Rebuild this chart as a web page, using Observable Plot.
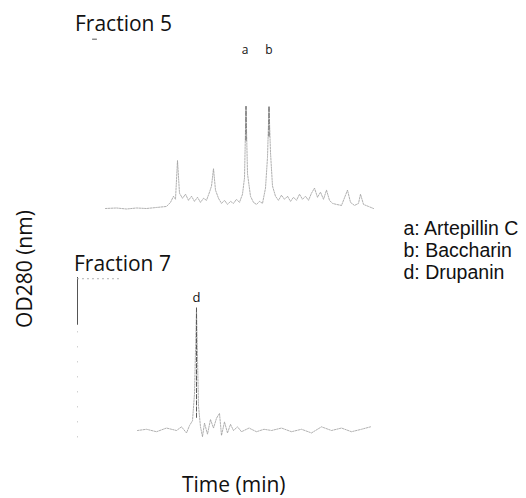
<!DOCTYPE html>
<html>
<head>
<meta charset="utf-8">
<script src="https://cdn.jsdelivr.net/npm/d3@7"></script>
<script src="https://cdn.jsdelivr.net/npm/@observablehq/plot@0.6"></script>
<style>
  body { margin: 0; background: #fff; }
  #wrap { position: relative; width: 526px; height: 498px; overflow: hidden; font-family: "Open Sans", "Noto Sans", sans-serif; color: #111; }
  .abs { position: absolute; white-space: nowrap; line-height: 1; }
  .title { font-size: 21px; }
  .chart { position: absolute; left: 0; }
  .legend { font-family: "Liberation Sans", Arial, sans-serif; font-size: 19.5px; line-height: 1; }
</style>
</head>
<body>
<div id="wrap">
  <div id="c5" class="chart" style="top:30px;"></div>
  <div id="c7" class="chart" style="top:270px;"></div>
  <div class="abs title" style="left:75px; top:13.4px;">Fraction 5</div>
  <div class="abs title" style="left:74px; top:253.4px;">Fraction 7</div>
  <div class="abs title" style="left:182px; top:474.4px;">Time (min)</div>
  <div class="abs title" style="left:24px; top:269px; transform: translate(-50%,-50%) rotate(-90deg);">OD280 (nm)</div>
  <div id="legend"></div>
</div>
<script>
// Fraction 5 trace (time in min, absorbance in relative units)
const f5Time = [5.8, 8, 10, 12, 14, 16, 18, 18.8, 19.4, 19.8, 20.2, 20.6, 21.2, 21.8, 22.4, 23, 23.6, 24.2, 24.8, 25.4, 26, 26.6, 27.0, 27.4, 27.8, 28.4, 29, 29.6, 30.2, 30.8, 31.4, 32, 32.6, 33.2, 33.6, 33.9, 34.2, 34.8, 35.4, 36, 36.6, 37.2, 37.8, 38.2, 38.5, 38.8, 39.2, 39.8, 40.4, 41, 41.6, 42.2, 42.8, 43.4, 44, 44.6, 45.2, 45.8, 46.4, 47, 47.6, 48.2, 48.8, 49.4, 50, 50.6, 51.2, 52, 53, 54.2, 54.8, 55.6, 56.4, 56.8, 57.4, 58.4, 59.4];
const f5Abs  = [0, 0.5, -0.5, 0.5, 0, 1, 2, 6, 12, 9, 47, 15, 10, 14, 8, 12, 7, 11, 6, 10, 8, 16, 22, 39, 18, 10, 5, 8, 4, 7, 5, 9, 6, 14, 30, 100, 34, 12, 6, 4, 7, 5, 20, 50, 100, 55, 22, 12, 8, 13, 9, 12, 7, 11, 8, 14, 9, 12, 8, 15, 20, 11, 16, 9, 18, 8, 5, 4, 3, 18, 6, 3, 5, 14, 4, 2, 0];

// Fraction 5 main peaks (a, b): darker upper part of the peak
const f5PeakTime = [33.9, 38.5];
const f5PeakLow = [66, 70];
const f5PeakHigh = [100, 100];

// Fraction 5 injection mark
const f5InjTime = [3.2, 4.0];
const f5InjAbs = [166, 166];

// Fraction 7 trace
const f7Time = [12.2, 14, 16, 18, 20, 21, 22, 22.6, 23.2, 23.6, 24.0, 24.4, 24.8, 25.2, 25.6, 26.2, 26.8, 27.4, 28, 28.6, 29, 29.6, 30.2, 30.8, 31.4, 32.2, 33, 34.5, 36, 37.5, 39, 41, 43, 45, 47, 49, 51, 53, 55, 57, 58.8];
const f7Abs  = [0, 1, -1, 2, 0, 3, -2, 4, 8, 30, 100, 20, 3, -5, 6, -3, 9, 2, 10, 14, -4, 7, -2, 5, 0, 3, -1, 2, -1, 1, 0, 2, -1, 1, -2, 3, 0, 2, -1, 1, 3];

// Fraction 7 main peak (d)
const f7PeakTime = [24.0];
const f7PeakLow = [10];
const f7PeakHigh = [100];

// Fraction 7 injection front (off-scale)
const f7InjTime = [0.2];
const f7InjLow = [86];
const f7InjHigh = [125];
const f7InjTopTime = [0.2, 8.8];
const f7InjTopAbs = [124, 124];

// Peak labels
const f5Labels = ["a", "b"];
const f5LabelTime = [33.7, 38.5];
const f5LabelAbs = [155, 155];
const f7Labels = ["d"];
const f7LabelTime = [24.0];
const f7LabelAbs = [108];

// Legend entries
const legendKeys = ["a", "b", "d"];
const legendNames = ["Artepillin C", "Baccharin", "Drupanin"];

const legendEl = document.getElementById("legend");
legendKeys.forEach((k, i) => {
  const div = document.createElement("div");
  div.className = "abs legend";
  div.style.left = "403.5px";
  div.style.top = (218.5 + i * 22) + "px";
  div.textContent = `${k}: ${legendNames[i]}`;
  legendEl.appendChild(div);
});

const xDomain = [0, 60];
const common = {
  width: 526,
  marginLeft: 76,
  marginRight: 150,
  x: {domain: xDomain, axis: null},
  style: {background: "transparent", fontFamily: "Open Sans, sans-serif", overflow: "visible"}
};
const traceStyle = {stroke: "#9c9c9c", strokeWidth: 0.8, strokeDasharray: "1.6,1.2"};
const peakStyle = {stroke: "#5a5a5a", strokeWidth: 1, strokeDasharray: "5,1.2"};

const d5 = f5Time.map((t, i) => ({t, v: f5Abs[i]}));
const pk5 = f5PeakTime.map((t, i) => ({t, lo: f5PeakLow[i], hi: f5PeakHigh[i]}));
const inj5 = f5InjTime.map((t, i) => ({t, v: f5InjAbs[i]}));
const l5 = f5Labels.map((s, i) => ({s, t: f5LabelTime[i], v: f5LabelAbs[i]}));
const p5 = Plot.plot({
  ...common,
  height: 190,
  marginTop: 76,
  marginBottom: 12,
  y: {domain: [0, 100], axis: null},
  marks: [
    Plot.line(d5, {x: "t", y: "v", ...traceStyle}),
    Plot.ruleX(pk5, {x: "t", y1: "lo", y2: "hi", ...peakStyle}),
    Plot.line(inj5, {x: "t", y: "v", stroke: "#555", strokeWidth: 1}),
    Plot.text(l5, {x: "t", y: "v", text: "s", fontSize: 12, fill: "#111"})
  ]
});
document.getElementById("c5").appendChild(p5);

const d7 = f7Time.map((t, i) => ({t, v: f7Abs[i]}));
const pk7 = f7PeakTime.map((t, i) => ({t, lo: f7PeakLow[i], hi: f7PeakHigh[i]}));
const inj7 = f7InjTime.map((t, i) => ({t, lo: f7InjLow[i], hi: f7InjHigh[i]}));
const inj7Top = f7InjTopTime.map((t, i) => ({t, v: f7InjTopAbs[i]}));
const l7 = f7Labels.map((s, i) => ({s, t: f7LabelTime[i], v: f7LabelAbs[i]}));
const p7 = Plot.plot({
  ...common,
  height: 170,
  marginTop: 7,
  marginBottom: 10,
  y: {domain: [0, 125], axis: null},
  marks: [
    Plot.ruleX(inj7, {x: "t", y1: "lo", y2: "hi", stroke: "#555", strokeWidth: 1}),
    Plot.ruleX(inj7, {x: "t", y1: -6, y2: "lo", stroke: "#bbb", strokeWidth: 1, strokeDasharray: "1,14"}),
    Plot.line(inj7Top, {x: "t", y: "v", stroke: "#aaa", strokeWidth: 1, strokeDasharray: "1,4"}),
    Plot.line(d7, {x: "t", y: "v", ...traceStyle}),
    Plot.ruleX(pk7, {x: "t", y1: "lo", y2: "hi", ...peakStyle}),
    Plot.text(l7, {x: "t", y: "v", text: "s", fontSize: 13, fill: "#111"})
  ]
});
document.getElementById("c7").appendChild(p7);
</script>
</body>
</html>
